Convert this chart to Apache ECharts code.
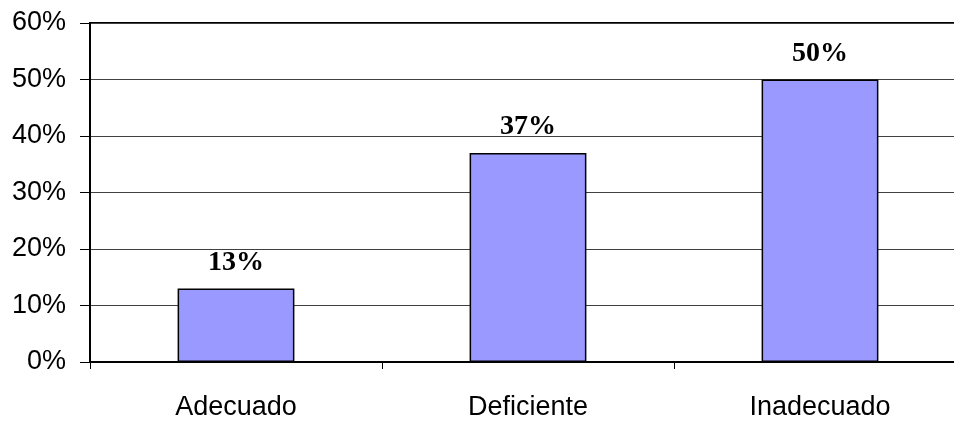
<!doctype html>
<html>
<head>
<meta charset="utf-8">
<title>Chart</title>
<script src="https://cdn.jsdelivr.net/npm/echarts@6/dist/echarts.min.js"></script>
<style>
  html, body { margin: 0; padding: 0; overflow: hidden; background: #fff; }
  #chart { width: 966px; height: 421px; }
</style>
</head>
<body>
<div id="chart"></div>
<script>
var categories = ['Adecuado', 'Deficiente', 'Inadecuado'];
var values = [13, 37, 50];
var yTicks = [0, 10, 20, 30, 40, 50, 60];

var chart = echarts.init(document.getElementById('chart'));
chart.setOption({
  animation: false,
  grid: {
    left: 90, right: 0, top: 23, bottom: 58,
    show: true, borderColor: '#000', borderWidth: 2
  },
  xAxis: {
    type: 'category',
    data: categories,
    axisLine: { lineStyle: { color: '#000', width: 1 } },
    axisTick: { show: true, length: 7, lineStyle: { color: '#000' } },
    axisLabel: { color: '#000', fontSize: 27, fontFamily: 'Liberation Sans', margin: 32 }
  },
  yAxis: {
    type: 'value',
    min: yTicks[0],
    max: yTicks[yTicks.length - 1],
    interval: 10,
    axisLine: { show: true, lineStyle: { color: '#000', width: 2 } },
    axisTick: { show: true, length: 10, lineStyle: { color: '#000' } },
    axisLabel: {
      color: '#000', fontSize: 27, fontFamily: 'Liberation Sans', margin: 24,
      formatter: function (v) { return v + '%'; }
    },
    splitLine: { show: true, lineStyle: { color: '#404040', width: 1 } }
  },
  series: [{
    type: 'bar',
    data: values,
    barWidth: '40%',
    itemStyle: { color: '#9999ff', borderColor: '#000', borderWidth: 1.5 },
    label: {
      show: true,
      position: 'top',
      distance: 12,
      color: '#000',
      fontSize: 28,
      fontWeight: 'bold',
      fontFamily: 'Liberation Serif',
      formatter: function (p) { return p.value + '%'; }
    }
  }]
});
</script>
</body>
</html>
